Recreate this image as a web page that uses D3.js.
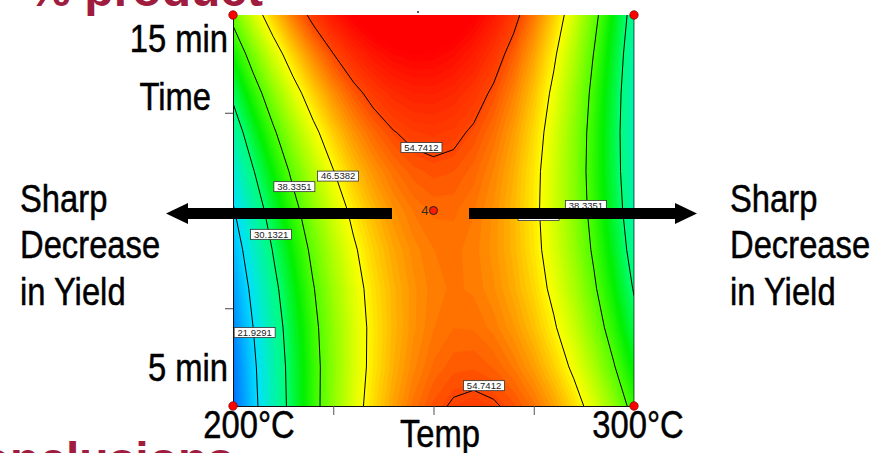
<!DOCTYPE html>
<html>
<head>
<meta charset="utf-8">
<script src="https://cdn.jsdelivr.net/npm/d3@7"></script>
<style>
  html, body { margin: 0; padding: 0; background: #fff; }
  svg { display: block; }
  .big { font-family: "Liberation Sans", Arial, sans-serif; font-size: 39px; fill: #000; stroke: #000; stroke-width: 0.5px; }
  .head { font-family: "Liberation Sans", Arial, sans-serif; font-weight: bold; font-size: 48px; fill: #a01c3f; }
  .lbl { font-family: "Liberation Sans", Arial, sans-serif; font-size: 9.5px; fill: #222; }
</style>
</head>
<body>
<svg id="chart" width="872" height="453"></svg>
<script>
// axes of the design space
const temps = [200, 205, 210, 215, 220, 225, 230, 235, 240, 245, 250,
               255, 260, 265, 270, 275, 280, 285, 290, 295, 300];
const times = [5, 6, 7, 8, 9, 10, 11, 12, 13, 14, 15];

// yield (%), one row per reaction time
const t5  = [13.83, 20.45, 26.50, 31.97, 36.87, 41.19, 44.93, 48.10, 50.69, 52.71, 54.15, 55.01, 55.30, 55.01, 54.15, 52.71, 50.69, 48.10, 44.93, 41.19, 36.87];
const t6  = [14.51, 20.96, 26.84, 32.14, 36.86, 41.01, 44.58, 47.57, 49.99, 51.84, 53.10, 53.80, 53.91, 53.45, 52.41, 50.80, 48.61, 45.85, 42.51, 38.59, 34.10];
const t7  = [15.61, 21.89, 27.59, 32.72, 37.27, 41.24, 44.64, 47.46, 49.71, 51.38, 52.48, 52.99, 52.94, 52.30, 51.09, 49.31, 46.95, 44.01, 40.49, 36.41, 31.74];
const t8  = [17.14, 23.24, 28.77, 33.72, 38.10, 41.90, 45.13, 47.78, 49.85, 51.35, 52.27, 52.62, 52.39, 51.58, 50.20, 48.24, 45.71, 42.59, 38.91, 34.65, 29.81];
const t9  = [19.09, 25.02, 30.38, 35.16, 39.36, 42.99, 46.04, 48.52, 50.42, 51.75, 52.49, 52.67, 52.26, 51.28, 49.73, 47.60, 44.89, 41.60, 37.75, 33.31, 28.30];
const t10 = [21.45, 27.21, 32.39, 37.00, 41.03, 44.49, 47.37, 49.67, 51.40, 52.55, 53.13, 53.13, 52.55, 51.40, 49.67, 47.37, 44.49, 41.03, 37.00, 32.39, 27.21];
const t11 = [24.23, 29.82, 34.83, 39.27, 43.13, 46.41, 49.12, 51.25, 52.80, 53.78, 54.19, 54.01, 53.26, 51.94, 50.04, 47.56, 44.51, 40.88, 36.67, 31.89, 26.54];
const t12 = [27.44, 32.85, 37.69, 41.95, 45.64, 48.75, 51.28, 53.24, 54.62, 55.43, 55.66, 55.32, 54.39, 52.90, 50.82, 48.17, 44.95, 41.15, 36.77, 31.81, 26.29];
const t13 = [31.06, 36.30, 40.97, 45.06, 48.57, 51.51, 53.87, 55.66, 56.87, 57.50, 57.56, 57.04, 55.94, 54.28, 52.03, 49.20, 45.81, 41.83, 37.28, 32.16, 26.45];
const t14 = [35.11, 40.18, 44.67, 48.59, 51.93, 54.69, 56.88, 58.49, 59.53, 59.99, 59.87, 59.18, 57.92, 56.07, 53.65, 50.66, 47.09, 42.94, 38.22, 32.92, 27.04];
const t15 = [39.57, 44.47, 48.79, 52.53, 55.70, 58.29, 60.31, 61.75, 62.61, 62.90, 62.61, 61.75, 60.31, 58.29, 55.70, 52.53, 48.79, 44.47, 39.57, 34.10, 28.05];

// contour levels drawn on the map
const levels = [21.9291, 30.1321, 38.3351, 46.5382, 54.7412];
// where each level label sits [temp, time, level index]
const labelSpots = [[247.0, 11.61, 4], [226.2, 10.88, 3], [215.3, 10.61, 2], [209.5, 9.39, 1],
                    [205.4, 6.88, 0], [276.2, 9.87, 3], [288.0, 10.13, 2], [262.6, 5.52, 4]];
// design points (corners + centre)
const designPoints = [[200, 5], [300, 5], [200, 15], [300, 15]];
const centrePoint = [250, 10, "4"];

const colorStops = [13, 22, 30, 34.5, 38.3, 46.5, 54.7, 60];
const colorRange = ["#0060ff", "#00e0ff", "#00ff78", "#00f000", "#50ff00", "#ffff00", "#ff4600", "#ff0000"];

const X0 = 233, X1 = 634, Y0 = 406, Y1 = 15;
const NARROW = 0.84;

const x = d3.scaleLinear().domain([200, 300]).range([X0, X1]);
const y = d3.scaleLinear().domain([5, 15]).range([Y0, Y1]);
const color = d3.scaleLinear().domain(colorStops).range(colorRange).clamp(true);

const svg = d3.select("#chart");

// heading fragments of the slide
svg.append("text").attr("class", "head").attr("x", 263).attr("y", 6)
  .attr("text-anchor", "end").text("% product");
svg.append("text").attr("class", "head").attr("x", 234).attr("y", 476)
  .attr("text-anchor", "end").text("Conclusions");

// grid -> pixel transform for d3.contours output (samples sit at cell centres)
const grid = [t5, t6, t7, t8, t9, t10, t11, t12, t13, t14, t15];
const values = grid.flat();
const nx = temps.length, ny = times.length;
const dT = temps[1] - temps[0], dt = times[1] - times[0];
const proj = d3.geoTransform({
  point(px, py) {
    this.stream.point(x(temps[0] + (px - 0.5) * dT), y(times[0] + (py - 0.5) * dt));
  }
});
const path = d3.geoPath(proj);

svg.append("defs").append("clipPath").attr("id", "plot")
  .append("rect")
  .attr("x", X0).attr("y", Y1)
  .attr("width", X1 - X0).attr("height", Y0 - Y1);

const plot = svg.append("g").attr("clip-path", "url(#plot)");

const bandSteps = d3.range(13, 63.5, 0.5);
plot.selectAll("path.band")
  .data(d3.contours().size([nx, ny]).thresholds(bandSteps)(values))
  .join("path")
  .attr("class", "band")
  .attr("d", path)
  .attr("fill", d => color(d.value + 0.25));

plot.selectAll("path.level")
  .data(d3.contours().size([nx, ny]).thresholds(levels)(values))
  .join("path")
  .attr("class", "level")
  .attr("d", path)
  .attr("fill", "none")
  .attr("stroke", "#000")
  .attr("stroke-width", 1);

// right edge shade
svg.append("line")
  .attr("x1", X1).attr("x2", X1).attr("y1", Y1).attr("y2", Y0)
  .attr("stroke", "#000").attr("stroke-opacity", 0.45).attr("stroke-width", 1.5);

// axes
svg.append("g")
  .attr("transform", `translate(${X0},0)`)
  .call(d3.axisLeft(y).tickValues([7.5, 10, 12.5]).tickFormat("").tickSize(8).tickSizeOuter(0))
  .call(g => g.select(".domain").attr("stroke", "#111"))
  .call(g => g.selectAll(".tick line").attr("stroke", "#444"));

svg.append("g")
  .attr("transform", `translate(0,${Y0})`)
  .call(d3.axisBottom(x).tickValues([225, 250, 275]).tickFormat("").tickSize(9).tickSizeOuter(0))
  .call(g => g.select(".domain").attr("stroke", "#111"))
  .call(g => g.selectAll(".tick line").attr("stroke", "#555"));

// contour labels
const lab = svg.append("g");
labelSpots.forEach(([T, t, i]) => {
  const g = lab.append("g").attr("transform", `translate(${x(T)},${y(t)})`);
  g.append("rect").attr("x", -20.5).attr("y", -5).attr("width", 41).attr("height", 10)
    .attr("fill", "#fff").attr("stroke", "#333").attr("stroke-width", 0.8);
  g.append("text").attr("class", "lbl").attr("text-anchor", "middle").attr("y", 3.4)
    .text(levels[i].toFixed(4));
});

// arrows
svg.append("path")
  .attr("d", "M392,208 L188,208 L188,203 L166,213.5 L188,224 L188,219 L392,219 Z")
  .attr("fill", "#000");
svg.append("path")
  .attr("d", "M469,208 L675,208 L675,203 L697,213.5 L675,224 L675,219 L469,219 Z")
  .attr("fill", "#000");

// design points
svg.selectAll("circle.dp").data(designPoints).join("circle")
  .attr("class", "dp")
  .attr("cx", d => x(d[0])).attr("cy", d => y(d[1])).attr("r", 4.2)
  .attr("fill", "#ff0000").attr("stroke", "#8a0000").attr("stroke-width", 0.8);
svg.append("circle")
  .attr("cx", x(centrePoint[0])).attr("cy", y(centrePoint[1])).attr("r", 4)
  .attr("fill", "#ff1a00").attr("stroke", "#222").attr("stroke-width", 1);
svg.append("text")
  .attr("x", x(centrePoint[0]) - 5).attr("y", y(centrePoint[1]) + 4)
  .attr("text-anchor", "end")
  .attr("font-family", "Liberation Sans, Arial, sans-serif").attr("font-size", 13)
  .attr("fill", "#3a2a1a").text(centrePoint[2]);
svg.append("circle").attr("cx", 418).attr("cy", 12).attr("r", 1).attr("fill", "#222");

// axis words and side notes (narrow face, squeezed horizontally)
const words = [
  ["15 min", 228, 52, "end"], ["Time", 211, 110, "end"], ["5 min", 228, 381, "end"],
  ["200°C", 249, 438, "middle"], ["300°C", 638, 438, "middle"], ["Temp", 440, 447, "middle"],
  ["Sharp", 20, 212, "start"], ["Decrease", 20, 258, "start"], ["in Yield", 20, 305, "start"],
  ["Sharp", 730, 212, "start"], ["Decrease", 730, 258, "start"], ["in Yield", 730, 305, "start"]
];
svg.selectAll("g.word").data(words).join("g")
  .attr("class", "word")
  .attr("transform", d => `translate(${d[1]},${d[2]}) scale(${NARROW},1)`)
  .append("text")
  .attr("class", "big")
  .attr("text-anchor", d => d[3])
  .text(d => d[0]);
</script>
</body>
</html>
